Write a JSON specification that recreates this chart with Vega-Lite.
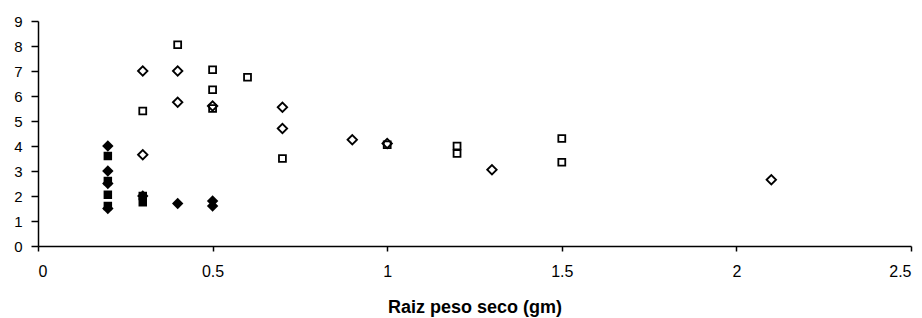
{
  "$schema": "https://vega.github.io/schema/vega-lite/v6.json",
  "width": 873,
  "height": 225,
  "autosize": "none",
  "padding": {"left": 38, "top": 21, "right": 11, "bottom": 72},
  "background": "white",
  "config": {
    "view": {"stroke": null},
    "axis": {
      "grid": false,
      "domainColor": "black",
      "domainWidth": 1.5,
      "tickColor": "black",
      "tickWidth": 1.5,
      "labelFont": "Liberation Sans",
      "labelColor": "black",
      "titleFont": "Liberation Sans",
      "titleColor": "black"
    }
  },
  "data": {
    "values": [
      {"serie": "fd", "x": 0.2, "y": 4.0},
      {"serie": "fd", "x": 0.2, "y": 3.0},
      {"serie": "fd", "x": 0.2, "y": 2.5},
      {"serie": "fd", "x": 0.2, "y": 1.5},
      {"serie": "fd", "x": 0.3, "y": 2.0},
      {"serie": "fd", "x": 0.4, "y": 1.7},
      {"serie": "fd", "x": 0.5, "y": 1.8},
      {"serie": "fd", "x": 0.5, "y": 1.6},
      {"serie": "fs", "x": 0.2, "y": 3.6},
      {"serie": "fs", "x": 0.2, "y": 2.6},
      {"serie": "fs", "x": 0.2, "y": 2.05},
      {"serie": "fs", "x": 0.2, "y": 1.6},
      {"serie": "fs", "x": 0.3, "y": 2.0},
      {"serie": "fs", "x": 0.3, "y": 1.75},
      {"serie": "od", "x": 0.3, "y": 7.0},
      {"serie": "od", "x": 0.3, "y": 3.65},
      {"serie": "od", "x": 0.4, "y": 7.0},
      {"serie": "od", "x": 0.4, "y": 5.75},
      {"serie": "od", "x": 0.5, "y": 5.6},
      {"serie": "od", "x": 0.7, "y": 5.55},
      {"serie": "od", "x": 0.7, "y": 4.7},
      {"serie": "od", "x": 0.9, "y": 4.25},
      {"serie": "od", "x": 1.0, "y": 4.1},
      {"serie": "od", "x": 1.3, "y": 3.05},
      {"serie": "od", "x": 2.1, "y": 2.65},
      {"serie": "os", "x": 0.3, "y": 5.4},
      {"serie": "os", "x": 0.4, "y": 8.05},
      {"serie": "os", "x": 0.5, "y": 7.05},
      {"serie": "os", "x": 0.5, "y": 6.25},
      {"serie": "os", "x": 0.5, "y": 5.5},
      {"serie": "os", "x": 0.6, "y": 6.75},
      {"serie": "os", "x": 0.7, "y": 3.5},
      {"serie": "os", "x": 1.0, "y": 4.05},
      {"serie": "os", "x": 1.2, "y": 4.0},
      {"serie": "os", "x": 1.2, "y": 3.7},
      {"serie": "os", "x": 1.5, "y": 4.3},
      {"serie": "os", "x": 1.5, "y": 3.35}
    ]
  },
  "encoding": {
    "x": {
      "field": "x",
      "type": "quantitative",
      "scale": {"domain": [0, 2.5], "nice": false, "zero": true},
      "axis": {
        "values": [0, 0.5, 1, 1.5, 2, 2.5],
        "format": ".1~f",
        "tickSize": 5,
        "labelPadding": 12,
        "labelFontSize": 16,
        "title": "Raiz peso seco (gm)",
        "titleFontWeight": "bold",
        "titleFontSize": 18,
        "titleBaseline": "alphabetic",
        "titleY": 66
      }
    },
    "y": {
      "field": "y",
      "type": "quantitative",
      "scale": {"domain": [0, 9], "nice": false},
      "axis": {
        "values": [0, 1, 2, 3, 4, 5, 6, 7, 8, 9],
        "tickSize": 7,
        "labelPadding": 9,
        "labelFontSize": 15,
        "title": null
      }
    }
  },
  "layer": [
    {
      "transform": [{"filter": "datum.serie === 'fs'"}],
      "mark": {"type": "point", "shape": "square", "filled": true, "color": "black", "size": 72, "opacity": 1}
    },
    {
      "transform": [{"filter": "datum.serie === 'fd'"}],
      "mark": {"type": "point", "shape": "diamond", "filled": true, "color": "black", "size": 130, "opacity": 1}
    },
    {
      "transform": [{"filter": "datum.serie === 'os'"}],
      "mark": {"type": "point", "shape": "square", "filled": false, "color": "black", "strokeWidth": 1.8, "size": 48, "opacity": 1}
    },
    {
      "transform": [{"filter": "datum.serie === 'od'"}],
      "mark": {"type": "point", "shape": "diamond", "filled": false, "color": "black", "strokeWidth": 1.8, "size": 90, "opacity": 1}
    }
  ]
}
